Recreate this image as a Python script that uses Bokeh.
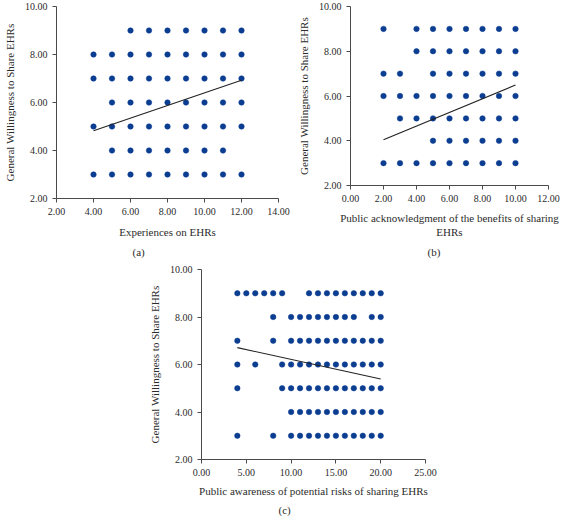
from bokeh.plotting import figure
from bokeh.models import NumeralTickFormatter, FixedTicker, Title, Range1d, Spacer
from bokeh.layouts import column, row
from bokeh.embed import file_html
from bokeh.resources import INLINE

# ---------------- data ----------------
# Panel (a): Experiences on EHRs
a_x_at_9 = [6, 7, 8, 9, 10, 11, 12]
a_x_at_8 = [4, 5, 6, 7, 8, 9, 10, 11, 12]
a_x_at_7 = [4, 5, 6, 7, 8, 9, 10, 11, 12]
a_x_at_6 = [5, 6, 7, 8, 9, 10, 11, 12]
a_x_at_5 = [4, 5, 6, 7, 8, 9, 10, 11, 12]
a_x_at_4 = [5, 6, 7, 8, 9, 10, 11]
a_x_at_3 = [4, 5, 6, 7, 8, 9, 10, 11, 12]
a_trend_x = [4, 12]
a_trend_y = [4.82, 6.93]

# Panel (b): Public acknowledgment of the benefits of sharing EHRs
b_x_at_9 = [2, 4, 5, 6, 7, 8, 9, 10]
b_x_at_8 = [4, 5, 6, 7, 8, 9, 10]
b_x_at_7 = [2, 3, 5, 6, 7, 8, 9, 10]
b_x_at_6 = [2, 3, 4, 5, 6, 7, 8, 9, 10]
b_x_at_5 = [3, 4, 5, 6, 7, 8, 9, 10]
b_x_at_4 = [5, 6, 7, 8, 9, 10]
b_x_at_3 = [2, 3, 4, 5, 6, 7, 8, 9, 10]
b_trend_x = [2, 10]
b_trend_y = [4.04, 6.49]

# Panel (c): Public awareness of potential risks of sharing EHRs
c_x_at_9 = [4, 5, 6, 7, 8, 9, 12, 13, 14, 15, 16, 17, 18, 19, 20]
c_x_at_8 = [8, 10, 11, 12, 13, 14, 15, 16, 17, 19, 20]
c_x_at_7 = [4, 8, 10, 11, 12, 13, 14, 15, 16, 17, 18, 19, 20]
c_x_at_6 = [4, 6, 9, 10, 11, 12, 13, 14, 15, 16, 17, 18, 19, 20]
c_x_at_5 = [4, 9, 10, 11, 12, 13, 14, 15, 16, 17, 18, 19, 20]
c_x_at_4 = [10, 11, 12, 13, 14, 15, 16, 17, 18, 19, 20]
c_x_at_3 = [4, 8, 10, 11, 12, 13, 14, 15, 16, 17, 18, 19, 20]
c_trend_x = [4, 20]
c_trend_y = [6.71, 5.39]

y_levels = [9, 8, 7, 6, 5, 4, 3]
y_ticks = [2, 4, 6, 8, 10]
a_x_ticks = [2, 4, 6, 8, 10, 12, 14]
b_x_ticks = [0, 2, 4, 6, 8, 10, 12]
c_x_ticks = [0, 5, 10, 15, 20, 25]

y_label = "General Willingness to Share EHRs"
a_label = "Experiences on EHRs"
b_label = "Public acknowledgment of the benefits of sharing\nEHRs"
c_label = "Public awareness of potential risks of sharing EHRs"

# ---------------- styling ----------------
FONT = "Liberation Serif"
DOT = "#0b3d91"
AXIS = "#4a4a4a"
TEXT = "#2b2b2b"


def flatten(rows):
    xs, ys = [], []
    for lvl, r in zip(y_levels, rows):
        xs.extend(r)
        ys.extend([lvl] * len(r))
    return xs, ys


def panel(rows, tx, ty, xr, xticks, xlabel, tag, fw, fh, bl, br, bt, bb,
          tag_offset, xlabel_size="11px", xlabel_standoff=8, tag_standoff=7):
    p = figure(frame_width=fw, frame_height=fh,
               x_range=Range1d(*xr), y_range=Range1d(2, 10),
               output_backend="svg", toolbar_location=None,
               min_border_left=bl, min_border_right=br,
               min_border_top=bt, min_border_bottom=bb)
    p.outline_line_color = None
    p.background_fill_color = "white"
    p.border_fill_color = "white"
    p.grid.visible = False
    xs, ys = flatten(rows)
    p.scatter(xs, ys, size=5.5, fill_color=DOT, line_color=DOT, line_width=0.5)
    p.line(tx, ty, line_color="#222222", line_width=1.1)

    p.xaxis.ticker = FixedTicker(ticks=xticks)
    p.yaxis.ticker = FixedTicker(ticks=y_ticks)
    for ax in (p.xaxis, p.yaxis):
        ax.formatter = NumeralTickFormatter(format="0.00")
        ax.axis_line_color = AXIS
        ax.major_tick_line_color = AXIS
        ax.minor_tick_line_color = None
        ax.major_tick_in = 0
        ax.major_tick_out = 4
        ax.major_label_text_font = FONT
        ax.major_label_text_font_size = "10px"
        ax.major_label_text_color = TEXT
        ax.axis_label_text_font = FONT
        ax.axis_label_text_font_size = "11px"
        ax.axis_label_text_font_style = "normal"
        ax.axis_label_text_color = TEXT
        ax.major_label_standoff = 5
    p.xaxis.axis_label = xlabel
    p.xaxis.axis_label_text_font_size = xlabel_size
    p.yaxis.axis_label = y_label
    p.xaxis.axis_label_standoff = xlabel_standoff
    p.yaxis.axis_label_standoff = 6
    p.add_layout(Title(text=tag, align="left", offset=tag_offset,
                       text_font=FONT, text_font_size="11px",
                       text_font_style="normal", text_color=TEXT,
                       standoff=tag_standoff), "below")
    return p


pa = panel([a_x_at_9, a_x_at_8, a_x_at_7, a_x_at_6, a_x_at_5, a_x_at_4, a_x_at_3],
           a_trend_x, a_trend_y, (2, 14), a_x_ticks, a_label, "(a)",
           fw=222, fh=192, bl=48, br=14, bt=6, bb=60, tag_offset=76)
pb = panel([b_x_at_9, b_x_at_8, b_x_at_7, b_x_at_6, b_x_at_5, b_x_at_4, b_x_at_3],
           b_trend_x, b_trend_y, (0, 12), b_x_ticks, b_label, "(b)",
           fw=198, fh=179, bl=58, br=14, bt=5, bb=74, tag_offset=77,
           xlabel_size="11px", xlabel_standoff=7, tag_standoff=6)
pc = panel([c_x_at_9, c_x_at_8, c_x_at_7, c_x_at_6, c_x_at_5, c_x_at_4, c_x_at_3],
           c_trend_x, c_trend_y, (0, 25), c_x_ticks, c_label, "(c)",
           fw=224, fh=190, bl=48, br=14, bt=8, bb=56, tag_offset=77,
           xlabel_standoff=6, tag_standoff=4)

layout = column(row(pa, pb), row(Spacer(width=145, height=10), pc))

with open("out.html", "w") as f:
    f.write(file_html(layout, INLINE))
